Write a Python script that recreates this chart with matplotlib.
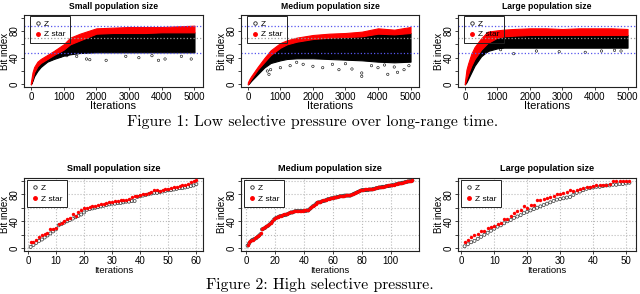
import matplotlib
matplotlib.use("Agg")
import matplotlib.pyplot as plt
from matplotlib.lines import Line2D

plt.rcParams['font.family'] = ['Liberation Sans', 'DejaVu Sans']

W, H = 640, 294

# ---- top row: long-range runs (dense bands read as envelopes) ----
top_iter = [0, 50, 100, 200, 300, 500, 700, 1000, 1200, 1500, 2000, 2500, 3000, 3500, 4000, 4500, 5000]

small_star_hi = [3, 18, 26, 34, 38, 44, 50, 60, 70, 76, 84, 85, 86, 86, 86, 87, 88]
small_star_lo = [0, 8, 18, 27, 32, 38, 44, 52, 60, 66, 76, 77, 77, 77, 78, 78, 78]
small_z_lo = [0, 5, 12, 20, 26, 34, 38, 43, 45, 47, 48, 48, 48, 48, 48, 48, 48]
small_out_x = [600, 900, 1100, 1400, 1700, 1800, 2300, 2900, 3300, 3700, 3900, 4100, 4600, 4900]
small_out_y = [40, 42, 43, 42, 38, 37, 36, 42, 40, 43, 36, 38, 42, 38]

med_star_hi = [3, 8, 12, 19, 26, 39, 51, 62, 66, 70, 74, 76, 77, 79, 84, 82, 86]
med_star_lo = [0, 4, 8, 15, 22, 33, 44, 55, 60, 64, 68, 70, 71, 72, 76, 75, 77]
med_z_lo = [0, 2, 5, 10, 15, 25, 32, 36, 38, 39, 39, 38, 37, 36, 34, 33, 34]
med_out_x = [600, 650, 700, 1000, 1300, 1700, 2000, 2300, 2800, 3200, 3500, 3500, 3800, 4000,
             4300, 4500, 4600, 4800, 4950, 1500, 2600, 3000, 4200]
med_out_y = [20, 15, 22, 25, 28, 30, 27, 25, 22, 23, 12, 17, 28, 25,
             15, 26, 18, 22, 28, 33, 30, 31, 29]

large_star_hi = [3, 22, 31, 46, 56, 69, 79, 81, 82, 83, 84, 84, 83, 84, 84, 84, 83]
large_star_lo = [0, 8, 15, 28, 38, 52, 62, 70, 72, 73, 74, 74, 74, 74, 74, 74, 74]
large_z_lo = [0, 3, 8, 18, 28, 42, 50, 54, 55, 55, 55, 55, 55, 55, 55, 55, 55]
large_out_x = [600, 700, 1100, 1500, 2200, 2900, 3700, 4200, 4600, 4800]
large_out_y = [48, 50, 52, 46, 50, 49, 48, 50, 51, 50]

ref_lines = [88, 47]
mean_line = 69

# ---- bottom row: high selective pressure ----
small_z = [2, 5, 8, 11, 13, 16, 19, 22, 25, 28,
           34, 36, 38, 40, 42, 44, 46, 48, 50, 53,
           57, 58, 59, 60, 61, 62, 63, 64, 65, 66,
           66, 67, 67, 68, 69, 69, 70, 70, 76, 77,
           78, 79, 80, 81, 82, 82, 83, 84, 85, 86,
           86, 87, 88, 89, 89, 90, 91, 92, 93, 95]
small_zstar = [9, 10, 13, 16, 20, 21, 23, 28, 29, 30,
               36, 38, 41, 44, 45, 51, 48, 53, 56, 59,
               60, 61, 62, 63, 64, 65, 66, 67, 68, 69,
               70, 70, 71, 71, 72, 73, 76, 77, 78, 79,
               80, 81, 82, 83, 86, 86, 85, 86, 87, 88,
               89, 90, 91, 92, 93, 94, 95, 98, 99, 101]

med_z = [4, 7, 10, 12, 13, 14, 15, 17, 19, 21,
         28, 29, 30, 32, 33, 35, 37, 39, 42, 44,
         45, 46, 47, 48, 48, 49, 49, 50, 51, 52,
         53, 53, 54, 55, 55, 55, 55, 55, 55, 55,
         55, 56, 56, 58, 60, 62, 63, 65, 67, 68,
         68, 69, 70, 70, 71, 72, 73, 73, 74, 74,
         75, 75, 76, 76, 77, 77, 77, 78, 78, 78,
         78, 78, 79, 80, 81, 82, 83, 84, 85, 86,
         86, 86, 86, 86, 87, 87, 87, 88, 88, 89,
         89, 90, 90, 91, 91, 91, 92, 92, 92, 93,
         93, 94, 94, 95, 95, 96, 96, 97, 97, 98,
         98, 99, 99, 100, 100]
med_zstar = [5, 9, 11, 12, 13, 15, 16, 18, 20, 22,
             29, 30, 31, 33, 34, 36, 38, 40, 43, 45,
             46, 47, 48, 48, 49, 50, 50, 51, 52, 53,
             53, 54, 55, 55, 55, 55, 55, 55, 55, 56,
             56, 57, 57, 59, 61, 63, 64, 66, 68, 69,
             69, 70, 71, 71, 72, 73, 73, 74, 75, 75,
             76, 76, 76, 77, 77, 78, 78, 78, 79, 79,
             79, 79, 80, 81, 82, 83, 84, 85, 86, 86,
             86, 87, 87, 87, 87, 88, 88, 88, 89, 89,
             90, 90, 91, 91, 91, 92, 92, 93, 93, 93,
             94, 94, 95, 95, 96, 96, 97, 97, 98, 98,
             99, 99, 100, 100, 101]

large_z = [3, 6, 9, 11, 14, 17, 20, 23, 26, 29,
           32, 34, 37, 40, 42, 45, 47, 49, 52, 54,
           56, 58, 60, 62, 64, 66, 68, 70, 72, 73,
           74, 75, 76, 79, 82, 84, 86, 88, 89, 90,
           91, 91, 92, 93, 93, 94, 94, 95, 95, 96, 97]
large_zstar = [10, 13, 16, 20, 21, 25, 26, 30, 32, 33,
               36, 38, 43, 44, 48, 52, 55, 56, 62, 60,
               64, 64, 71, 71, 73, 74, 76, 77, 80, 80,
               82, 83, 86, 85, 86, 87, 89, 91, 91, 92,
               93, 94, 94, 94, 95, 99, 99, 99, 99, 99, 100]

top_titles = ['Small population size', 'Medium population size', 'Large population size']
top_bands = [(small_star_hi, small_star_lo, small_z_lo, small_out_x, small_out_y),
             (med_star_hi, med_star_lo, med_z_lo, med_out_x, med_out_y),
             (large_star_hi, large_star_lo, large_z_lo, large_out_x, large_out_y)]
bottom_data = [(small_z, small_zstar, [0, 10, 20, 30, 40, 50, 60]),
               (med_z, med_zstar, [0, 20, 40, 60, 80, 100]),
               (large_z, large_zstar, [0, 10, 20, 30, 40, 50])]

col_lr = [(24, 203), (241, 419), (458, 636)]


def px_rect(l, r, t, b):
    return [l / W, 1 - b / H, (r - l) / W, (b - t) / H]


def style_axes(ax, ylabel_x):
    for s in ax.spines.values():
        s.set_linewidth(0.8)
        s.set_color('#222222')
    ax.tick_params(length=2.5, width=0.6, pad=1.0, labelsize=7, color='#222222')
    ax.tick_params(axis='y', labelrotation=90, pad=0.6)
    for lab in ax.get_yticklabels():
        lab.set_va('center')
    ax.set_yticks([0, 20, 40, 60, 80, 100])
    ax.set_yticklabels(['0', '', '40', '', '80', ''])
    ax.set_ylim(-4, 104)
    ax.set_ylabel('Bit index', fontsize=7)
    ax.yaxis.set_label_coords(ylabel_x, 0.5)


z_handle = Line2D([], [], marker='o', ls='none', mfc='none', mec='#222222', mew=0.6, ms=2.5)
s_handle = Line2D([], [], marker='o', ls='none', mfc='red', mec='red', ms=2.5)

fig = plt.figure(figsize=(W / 100, H / 100), dpi=100)

# top row
for i, (l, r) in enumerate(col_lr):
    ax = fig.add_axes(px_rect(l, r, 15, 87))
    hi, lo, zlo, ox, oy = top_bands[i]
    ax.fill_between(top_iter, zlo, lo, color='black', lw=0.8, edgecolor='black')
    ax.scatter(ox, oy, s=3, facecolors='none', edgecolors='black', linewidths=0.4)
    ax.fill_between(top_iter, lo, hi, color='red', lw=0.8, edgecolor='red')
    for yv in ref_lines:
        ax.axhline(yv, color='#5555ee', ls=':', lw=0.9)
    ax.axhline(mean_line, color='#999999', ls=':', lw=0.9)
    ax.set_xlim(-210, 5260)
    ax.set_xticks([0, 1000, 2000, 3000, 4000, 5000])
    style_axes(ax, -0.08)
    ax.set_xlabel('Iterations', fontsize=8)
    ax.xaxis.set_label_coords(0.5, -0.195)
    ax.set_title(top_titles[i], fontsize=6.2, fontweight='bold', pad=4)
    leg = ax.legend([z_handle, s_handle], ['Z', 'Z star'], loc='upper left',
                    bbox_to_anchor=(0.034, 0.99), borderaxespad=0, fontsize=6,
                    handlelength=0.8, handletextpad=0.3, borderpad=0.55,
                    labelspacing=0.3, fancybox=False, framealpha=1,
                    facecolor='none', edgecolor='#222222')
    leg.get_frame().set_linewidth(0.7)

# bottom row
for i, (l, r) in enumerate(col_lr):
    ax = fig.add_axes(px_rect(l, r, 178, 251))
    z, zs, xt = bottom_data[i]
    it = list(range(1, len(z) + 1))
    ax.set_axisbelow(True)
    ax.grid(True, color='#bbbbbb', ls=':', lw=0.8)
    ax.scatter(it, z, s=5, facecolors='none', edgecolors='#333333', linewidths=0.5, zorder=3)
    ax.scatter(it, zs, s=6, color='red', linewidths=0, zorder=4)
    n = len(z)
    pad = (n - 1) * 0.04
    ax.set_xlim(1 - pad, n + pad)
    ax.set_xticks(xt)
    style_axes(ax, -0.08)
    ax.set_xlabel('Iterations', fontsize=6.8)
    ax.xaxis.set_label_coords(0.5, -0.205)
    ax.set_title(top_titles[i], fontsize=6.6, fontweight='bold', pad=5)
    leg = ax.legend([z_handle, s_handle], ['Z', 'Z star'], loc='upper left',
                    bbox_to_anchor=(0.017, 0.975), borderaxespad=0, fontsize=6,
                    handlelength=0.8, handletextpad=0.3, borderpad=0.55,
                    labelspacing=0.3, fancybox=False, framealpha=1,
                    facecolor='white', edgecolor='#222222')
    leg.get_frame().set_linewidth(0.7)

fig.text(313 / W, 1 - 122 / H, 'Figure 1: Low selective pressure over long-range time.',
         ha='center', va='center', family='cmr10', fontsize=11.3)
fig.text(320 / W, 1 - 285 / H, 'Figure 2: High selective pressure.',
         ha='center', va='center', family='cmr10', fontsize=11.3)

fig.savefig('out.png', dpi=100)
